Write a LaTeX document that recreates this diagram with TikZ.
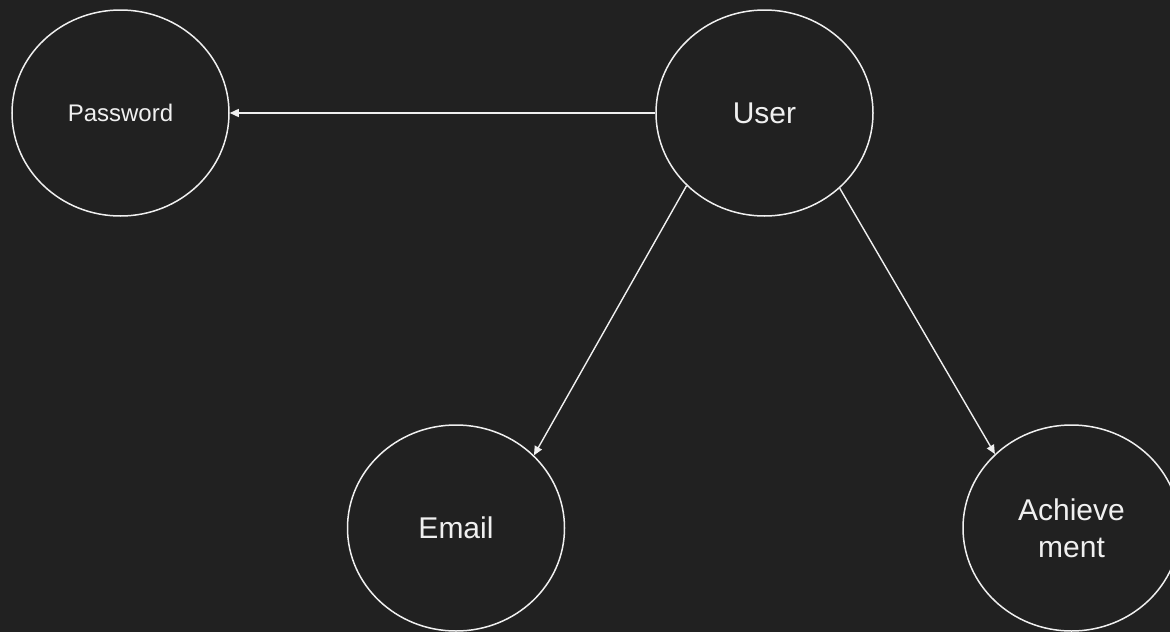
\documentclass[tikz,border=0pt]{standalone}
\usepackage{fontspec}
\setmainfont{Liberation Sans}
\usetikzlibrary{shapes.geometric,arrows.meta}
\definecolor{bg}{RGB}{33,33,33}
\definecolor{fg}{RGB}{240,240,240}
\begin{document}
\begin{tikzpicture}[x=1pt,y=-1pt,
  ent/.style={ellipse,draw=fg,line width=1.5pt,minimum width=217pt,minimum height=206pt,inner sep=0pt,text=fg,font=\fontsize{30}{37}\selectfont,align=center},
  conn/.style={draw=fg,line width=1.4pt,-{Triangle[length=9pt,width=8pt]}}]
\fill[bg] (0,0) rectangle (1170,632);
\useasboundingbox (0,0) rectangle (1170,632);
\node[ent,font=\fontsize{24}{28}\selectfont] (pw) at (120.5,113) {Password};
\node[ent] (user) at (764.5,113) {User};
\node[ent] (email) at (456,528) {Email};
\node[ent] (ach) at (1071.5,528) {Achieve\\ment};
\draw[conn] (user.west) -- (pw.east);
\draw[conn] (user.223.5) -- (email.43.5);
\draw[conn] (user.315.6) -- (ach.136.7);
\end{tikzpicture}
\end{document}
